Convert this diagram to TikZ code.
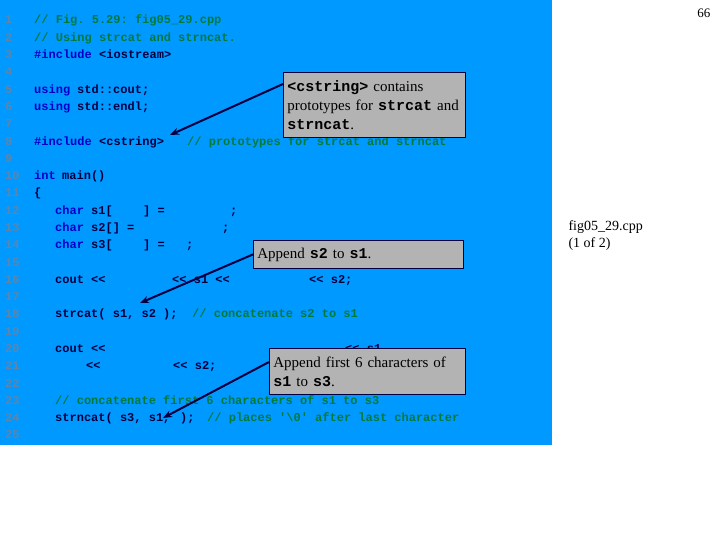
\documentclass[tikz,border=0pt]{standalone}
\usepackage{fontspec}
\setmainfont{Liberation Serif}
\setmonofont{Liberation Mono}
\usetikzlibrary{arrows.meta}
\definecolor{bg}{HTML}{0099FF}
\definecolor{num}{HTML}{5F85AA}
\definecolor{kw}{HTML}{0000C8}
\definecolor{cd}{HTML}{000040}
\definecolor{cm}{HTML}{007A3A}
\definecolor{bx}{HTML}{B3B3B3}
\newcommand{\mc}[1]{{\ttfamily\bfseries #1}}
\begin{document}
\begin{tikzpicture}[x=1pt,y=-1pt,
  code/.style={anchor=base west,inner sep=0pt,font=\ttfamily\bfseries\fontsize{12}{12}\selectfont},
  lnum/.style={anchor=base west,inner sep=0pt,text=num,font=\ttfamily\bfseries\fontsize{12}{12}\selectfont},
  callout/.style={draw=cd,fill=bx,line width=0.8pt,anchor=north west,align=left,inner sep=4pt,font=\fontsize{15}{19}\selectfont,text=black},
  pointer/.style={draw=cd,line width=2pt,-{Stealth[length=9pt,width=7pt]}}]
\useasboundingbox (0,0) rectangle (720,540);
\fill[bg] (0,0) rectangle (552,445);
\foreach \n in {1,...,25}{\node[lnum] at (5,{24+(\n-1)*17.29}) {\n};}
\newcommand{\cdl}[4]{\node[code,text=#3] at (#1,{24+(#2-1)*17.29}) {#4};}
\cdl{34}{1}{cm}{// Fig. 5.29: fig05\_29.cpp}
\cdl{34}{2}{cm}{// Using strcat and strncat.}
\cdl{34}{3}{kw}{\#include}\cdl{99}{3}{cd}{<iostream>}
\cdl{34}{5}{kw}{using}\cdl{77}{5}{cd}{std::cout;}
\cdl{34}{6}{kw}{using}\cdl{77}{6}{cd}{std::endl;}
\cdl{34}{8}{kw}{\#include}\cdl{99}{8}{cd}{<cstring>}\cdl{187}{8}{cm}{// prototypes for strcat and strncat}
\cdl{34}{10}{kw}{int}\cdl{62}{10}{cd}{main()}
\cdl{34}{11}{cd}{\{}
\cdl{55}{12}{kw}{char}\cdl{91}{12}{cd}{s1[}\cdl{143}{12}{cd}{] =}\cdl{230}{12}{cd}{;}
\cdl{55}{13}{kw}{char}\cdl{91}{13}{cd}{s2[] =}\cdl{222}{13}{cd}{;}
\cdl{55}{14}{kw}{char}\cdl{91}{14}{cd}{s3[}\cdl{143}{14}{cd}{] =}\cdl{186}{14}{cd}{;}
\cdl{55}{16}{cd}{cout <<}\cdl{172}{16}{cd}{<< s1 <<}\cdl{309}{16}{cd}{<< s2;}
\cdl{55}{18}{cd}{strcat( s1, s2 );}\cdl{192}{18}{cm}{// concatenate s2 to s1}
\cdl{55}{20}{cd}{cout <<}\cdl{345}{20}{cd}{<< s1}
\cdl{86}{21}{cd}{<<}\cdl{173}{21}{cd}{<< s2;}
\cdl{55}{23}{cm}{// concatenate first 6 characters of s1 to s3}
\cdl{55}{24}{cd}{strncat( s3, s1,}\cdl{180}{24}{cd}{);}\cdl{207}{24}{cm}{// places '\textbackslash0' after last character}
\node[callout,minimum width=182pt,minimum height=65pt,text width=174pt] (c1) at (283,72)
  {\mc{<cstring>} contains\\ prototypes for \mc{strcat} and\\ \mc{strncat}.};
\node[callout,minimum width=210pt,minimum height=28pt,text width=202pt] (c2) at (253,240)
  {Append \mc{s2} to \mc{s1}.};
\node[callout,minimum width=196pt,minimum height=46pt,text width=188pt] (c3) at (269,348)
  {Append first 6 characters of\\ \mc{s1} to \mc{s3}.};
\coordinate (t1) at (170,135);
\coordinate (t2) at (140,303);
\coordinate (t3) at (163,418);
\draw[pointer] (283,84) -- (t1);
\draw[pointer] (c2.west) -- (t2);
\draw[pointer] (269,362) -- (t3);
\node[anchor=west,font=\fontsize{14}{17}\selectfont,align=left] (lab) at (565,236) {fig05\_29.cpp\\(1 of 2)};
\node[anchor=east,font=\fontsize{13}{13}\selectfont] (pg) at (714,13) {66};
\end{tikzpicture}
\end{document}
